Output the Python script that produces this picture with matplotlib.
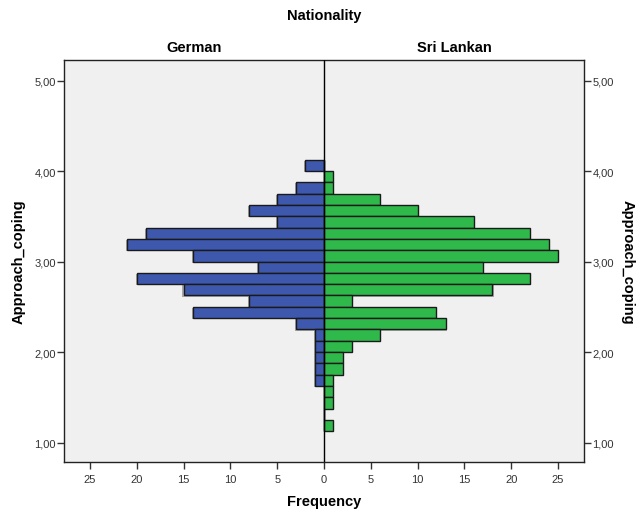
import numpy as np
import matplotlib
matplotlib.use("Agg")
import matplotlib.pyplot as plt
from matplotlib.ticker import FixedLocator, FuncFormatter

plt.rcParams['font.family'] = ['Liberation Sans', 'DejaVu Sans']

# bins of Approach_coping, lower edges, width 0.125 (top to bottom)
bin_lower = [4.0, 3.875, 3.75, 3.625, 3.5, 3.375, 3.25, 3.125, 3.0, 2.875,
             2.75, 2.625, 2.5, 2.375, 2.25, 2.125, 2.0, 1.875, 1.75, 1.625,
             1.5, 1.375, 1.25, 1.125]
german = [2, 0, 3, 5, 8, 5, 19, 21, 14, 7, 20, 15, 8, 14, 3, 1, 1, 1, 1, 1, 0, 0, 0, 0]
sri_lankan = [0, 1, 1, 6, 10, 16, 22, 24, 25, 17, 22, 18, 3, 12, 13, 6, 3, 2, 2, 1, 1, 1, 0, 1]
bin_width = 0.125

y_ticks = [1, 2, 3, 4, 5]
x_ticks = [-25, -20, -15, -10, -5, 0, 5, 10, 15, 20, 25]

blue = '#3e58ad'
green = '#30b94b'
bg = '#f0f0f0'

fig = plt.figure(figsize=(6.36, 5.10), dpi=100)
ax = fig.add_axes([64 / 636, 1 - 463 / 510, 520 / 636, 402 / 510])
ax.set_facecolor(bg)

# slight shadow like SPSS
ax.barh(np.array(bin_lower) - 0.012, -np.array(german), height=bin_width, align='edge',
        left=-0.12, color='#a8a8a8', edgecolor='none', zorder=1)
ax.barh(np.array(bin_lower) - 0.012, sri_lankan, height=bin_width, align='edge',
        left=0.12, color='#a8a8a8', edgecolor='none', zorder=1)

ax.barh(bin_lower, -np.array(german), height=bin_width, align='edge',
        color=blue, edgecolor='#1a1a1a', linewidth=1.0, zorder=2)
ax.barh(bin_lower, sri_lankan, height=bin_width, align='edge',
        color=green, edgecolor='#1a1a1a', linewidth=1.0, zorder=2)

ax.axvline(0, color='black', linewidth=1.0, zorder=3)

ax.set_xlim(-27.78, 27.78)
ax.set_ylim(0.785, 5.227)

ax.xaxis.set_major_locator(FixedLocator(x_ticks))
ax.xaxis.set_major_formatter(FuncFormatter(lambda v, p: f"{abs(int(round(v)))}"))
ax.yaxis.set_major_locator(FixedLocator(y_ticks))
ax.yaxis.set_major_formatter(FuncFormatter(lambda v, p: f"{v:.2f}".replace('.', ',')))

ax.tick_params(axis='both', direction='out', length=5, width=1, colors='#333333',
               labelsize=8, labelcolor='#333333')
ax.tick_params(axis='y', left=True, right=True, labelleft=True, labelright=True, pad=1)
ax.tick_params(axis='x', pad=4)

for s in ax.spines.values():
    s.set_linewidth(1.0)
    s.set_color('#222222')

ax.set_xlabel('Frequency', fontsize=10.5, fontweight='bold', labelpad=7)

fig.text(19 / 636, 1 - 262 / 510, 'Approach_coping', ha='center', va='center',
         rotation=90, fontsize=10.5, fontweight='bold')
fig.text(628 / 636, 1 - 262 / 510, 'Approach_coping', ha='center', va='center',
         rotation=270, fontsize=10.5, fontweight='bold')

fig.text(324 / 636, 1 - 16 / 510, 'Nationality', ha='center', va='center',
         fontsize=10.5, fontweight='bold')
fig.text(194 / 636, 1 - 48 / 510, 'German', ha='center', va='center',
         fontsize=10.5, fontweight='bold')
fig.text(454 / 636, 1 - 48 / 510, 'Sri Lankan', ha='center', va='center',
         fontsize=10.5, fontweight='bold')

fig.savefig('out.png', dpi=100, facecolor='white')
